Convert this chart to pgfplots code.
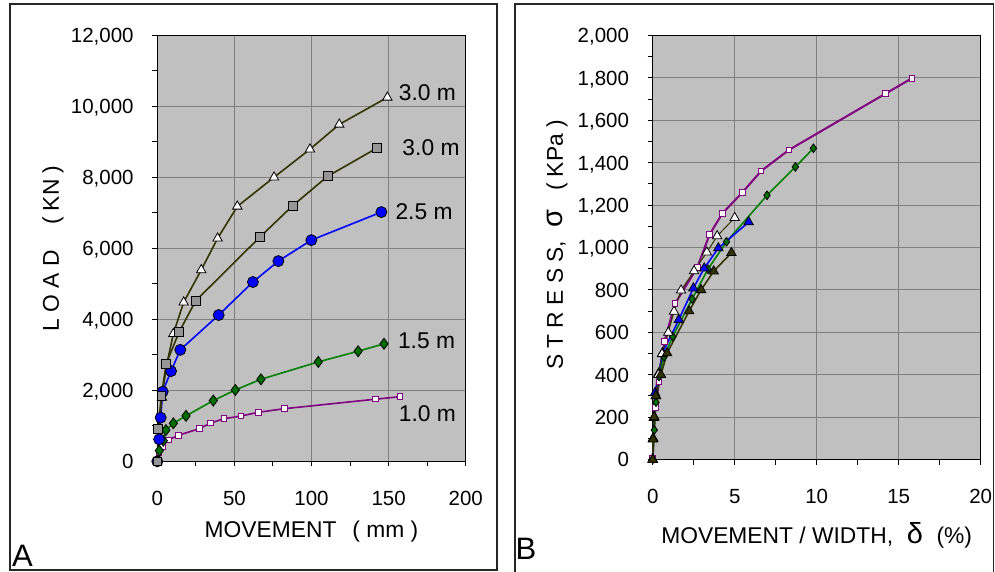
\documentclass[border=0pt]{standalone}
\usepackage{pgfplots}
\pgfplotsset{compat=1.18}
\usepackage{fontspec}
\setmainfont{Liberation Sans}
\definecolor{bg}{RGB}{192,192,192}
\definecolor{gridc}{RGB}{128,128,128}
\definecolor{olv}{RGB}{51,51,0}
\definecolor{sq}{RGB}{150,150,150}
\definecolor{pur}{RGB}{128,0,128}
\definecolor{grn}{RGB}{0,128,0}
\definecolor{blu}{RGB}{0,0,255}
\tikzset{lab/.style={font=\fontsize{22.8}{26}\selectfont}}
\pgfplotsset{
 myax/.style={scale only axis, clip=false,
  axis background/.style={fill=bg},
  grid=major, major grid style={gridc, line width=0.9pt},
  axis line style={black, line width=1.1pt},
  tick pos=left, tick align=outside,
  major tick length=5pt, minor tick length=5pt,
  every tick/.style={black, line width=1pt},
  minor tick num=1, scaled ticks=false,
  /pgf/number format/assume math mode=true,
  /pgf/number format/1000 sep={,},
  ticklabel style={font=\fontsize{20.5}{24}\selectfont},
  xticklabel style={anchor=base, inner sep=0pt, yshift=-39pt},
  yticklabel style={anchor=base east, inner sep=0pt, xshift=-18.5pt, yshift=-7.3pt},
  label style={font=\fontsize{22.8}{26}\selectfont},
 },
}
\begin{document}
\begin{tikzpicture}[x=1pt,y=1pt]
\useasboundingbox (0,0) rectangle (995,571);
% frames
\draw[line width=1.3pt, black!85] (10,1) rectangle (497,567);
\draw[line width=1.3pt, black!85] (515,-5) -- (515,567) -- (993.5,567) -- (993.5,-5);
\node[anchor=base west, inner sep=0pt, font=\fontsize{31}{31}\selectfont] at (12,5) {A};
\node[anchor=base west, inner sep=0pt, font=\fontsize{31}{31}\selectfont] at (515.5,12) {B};

% ---------- Panel A ----------
\begin{axis}[myax, at={(157.3pt,109.7pt)}, anchor=south west,
  width=308.4pt, height=426pt,
  xmin=0, xmax=200, ymin=0, ymax=12000,
  xtick={0,50,...,200}, ytick={0,2000,...,12000},
  xlabel={MOVEMENT\hspace{0.7em}( mm )},
  ylabel={L O A D\hspace{1.1em}( KN )},
  xlabel style={at={(axis description cs:0.5,-0.166)}, anchor=center},
  ylabel style={at={(axis description cs:-0.338,0.5)}, anchor=center},
]
\addplot[pur, line width=1.6pt, mark=square*, mark size=2.8pt,
  mark options={fill=white, draw=pur, line width=1pt, solid}] table {
0 0
1.2 230
3.2 420
7.1 600
13.6 732
27.2 918
34.6 1079
43.3 1200
54.3 1276
65.5 1380
82.4 1482
141.6 1750
157.4 1820
};
\addplot[grn, line width=1.6pt, mark=diamond*, mark size=5.5pt,
  mark options={fill=grn!85!black, draw=black, line width=0.8pt, solid}] table {
0 0
1.3 300
3.9 580
5.6 880
10.4 1070
18.6 1280
36.3 1710
50.6 2010
67.2 2310
104.4 2800
130.2 3100
147 3310
};
\addplot[blu, line width=1.6pt, mark=*, mark size=5.5pt,
  mark options={fill=blu, draw=black, line width=0.8pt, solid}] table {
0 0
1.2 620
2.2 1230
3.5 1960
8.9 2540
14.9 3140
39.8 4120
62 5050
78.5 5640
99.9 6230
145.3 7020
};
\addplot[olv, line width=1.6pt, mark=triangle*, mark size=5.4pt,
  mark options={fill=white, draw=black, line width=0.8pt, solid}] table {
0 0
1 900
3 1800
6 2700
10.4 3590
17.1 4480
28.5 5390
39.1 6280
51.9 7180
75.7 8000
99 8790
118 9490
149.2 10250
};
\addplot[olv, line width=1.6pt, mark=square*, mark size=4.4pt,
  mark options={fill=sq, draw=black, line width=0.8pt, solid}] table {
0 0
0.6 920
2.6 1840
5.8 2750
14.1 3640
24.9 4520
66.6 6320
87.8 7200
110.5 8030
142.3 8820
};
\node[lab] at (axis cs:175.2,10375) {3.0 m};
\node[lab] at (axis cs:177.5,8826) {3.0 m};
\node[lab] at (axis cs:173,7020) {2.5 m};
\node[lab] at (axis cs:174.6,3389) {1.5 m};
\node[lab] at (axis cs:175.2,1333) {1.0 m};
\end{axis}

% ---------- Panel B ----------
\begin{axis}[myax, at={(652.7pt,111.5pt)}, anchor=south west,
  width=328pt, height=424pt,
  xmin=0, xmax=20, ymin=0, ymax=2000,
  xtick={0,5,...,20}, ytick={0,200,...,2000},
  xlabel={MOVEMENT / WIDTH,\hspace{0.6em}{\fontsize{29}{29}\selectfont δ}\hspace{0.6em}(\%)},
  ylabel={S T R E S S,\hspace{0.6em}{\fontsize{29}{29}\selectfont σ}\hspace{0.8em}( KPa )},
  xlabel style={at={(axis description cs:0.5,-0.178)}, anchor=center},
  ylabel style={at={(axis description cs:-0.292,0.506)}, anchor=center},
]
\addplot[pur, line width=2pt, mark=square*, mark size=2.8pt,
  mark options={fill=white, draw=pur, line width=1pt, solid}] table {
0 8
0.16 245
0.39 366
0.71 556
1.36 735
2.72 906
3.46 1060
4.24 1160
5.47 1260
6.6 1360
8.3 1460
14.2 1726
15.8 1798
};
\addplot[grn, line width=1.6pt, mark=diamond*, mark size=4.3pt,
  mark options={fill=grn!85!black, draw=black, line width=0.8pt, solid}] table {
0 0
0.1 139
0.2 270
0.39 391
0.69 484
1.22 580
2.4 757
3.37 898
4.5 1027
6.97 1246
8.7 1380
9.8 1468
};
\addplot[blu, line width=1.6pt, mark=triangle*, mark size=5.4pt,
  mark options={fill=blu, draw=black, line width=0.8pt, solid}] table {
0 0
0.02 99
0.07 197
0.14 314
0.36 406
0.6 502
1.59 659
2.48 808
3.14 902
4.0 997
5.85 1120
};
\addplot[olv, line width=1pt, mark=triangle*, mark size=5.4pt,
  mark options={fill=white, draw=black, line width=0.8pt, solid}] table {
0 0
0.03 100
0.1 200
0.2 300
0.35 400
0.57 498
0.95 599
1.3 698
1.73 798
2.52 889
3.3 977
3.93 1054
5.0 1140
};
\addplot[olv, line width=1.6pt, mark=triangle*, mark size=5.4pt,
  mark options={fill=olv, draw=black, line width=0.8pt, solid}] table {
0 0
0.02 95
0.09 200
0.19 300
0.5 400
0.88 502
2.22 700
2.95 800
3.72 888
4.8 975
};
\end{axis}
\end{tikzpicture}
\end{document}
